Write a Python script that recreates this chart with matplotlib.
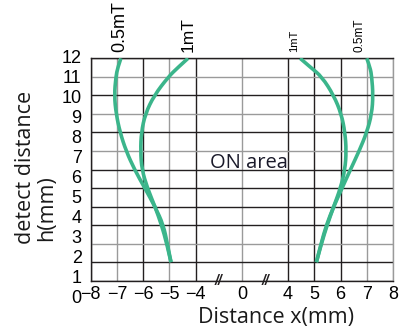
import numpy as np
import matplotlib
matplotlib.use("Agg")
import matplotlib.pyplot as plt
from matplotlib.path import Path
from matplotlib.patches import PathPatch

# ---- data (h in grid units, x in mm) ----
h_vals = [12, 11.5, 11, 10, 9, 8, 7, 6, 5, 4, 3, 2, 1]
left_05mT = [-6.85, -6.97, -7.04, -7.10, -7.03, -6.88, -6.65, -6.33, -5.94, -5.55, -5.23, -5.08, -4.94]
left_1mT = [-4.29, -4.68, -5.04, -5.58, -5.92, -6.07, -6.10, -6.05, -5.84, -5.55, -5.30, -5.10, -4.94]
right_1mT = [4.46, 4.87, 5.29, 5.74, 6.03, 6.17, 6.22, 6.17, 6.00, 5.74, 5.49, 5.27, 5.08]
right_05mT = [7.00, 7.13, 7.19, 7.24, 7.19, 7.00, 6.71, 6.38, 6.06, 5.74, 5.46, 5.26, 5.08]

x_ticks = [-8, -7, -6, -5, -4, 0, 4, 5, 6, 7, 8]
y_ticks = list(range(0, 13))
break_marks = [-2, 2]

# broken x axis: piecewise linear scale
XB = [-8, -4, 0, 4, 8]
XP = [0, 4, 5.76, 7.52, 11.52]
def fwd(x):
    return np.interp(x, XB, XP)
def inv(p):
    return np.interp(p, XP, XB)

GREEN = "#3bb58b"
DARK = "#231f20"
GRAY = "#9a9a9a"
TICKFONT = "Liberation Sans"
LABFONT = "Open Sans"

W, H = 405, 332
fig = plt.figure(figsize=(W / 100, H / 100), dpi=100)
L, R, T, B = 90.7, 393.0, 58.3, 280.7
ax = fig.add_axes([L / W, 1 - B / H, (R - L) / W, (B - T) / H])
ax.set_xscale("function", functions=(fwd, inv))
ax.set_xlim(-8, 8)
ax.set_ylim(0, 12)
ax.set_xticks(x_ticks)
ax.set_xticklabels([str(v).replace("-", "\u2212") for v in x_ticks],
                   fontfamily=TICKFONT, fontsize=13)
ax.set_yticks(y_ticks)
ax.set_yticklabels([])
ax.minorticks_off()
ax.tick_params(axis="both", length=0)
ax.tick_params(axis="x", pad=4)
ax.grid(True, linewidth=1.0)
h_dark = {12, 10, 8, 6, 5, 4, 3, 1, 0}
for v, gl in zip(y_ticks, ax.yaxis.get_gridlines()):
    gl.set_color(DARK if v in h_dark else GRAY)
x_dark = {-8, -6, -4, 4, 5, 6}
for v, gl in zip(x_ticks, ax.xaxis.get_gridlines()):
    gl.set_color(DARK if v in x_dark else GRAY)
for s in ["left", "bottom", "top"]:
    ax.spines[s].set_color(DARK)
    ax.spines[s].set_linewidth(1.0)
ax.spines["right"].set_color(GRAY)
ax.spines["right"].set_linewidth(1.0)


def smooth_path(xs, ys):
    """Quadratic Bezier path through the read points (midpoint smoothing)."""
    pts = list(zip(xs, ys))
    verts = [pts[0]]
    codes = [Path.MOVETO]
    n = len(pts)
    for i in range(1, n - 1):
        ctrl = pts[i]
        if i < n - 2:
            end = ((pts[i][0] + pts[i + 1][0]) / 2, (pts[i][1] + pts[i + 1][1]) / 2)
        else:
            end = pts[n - 1]
        verts += [ctrl, end]
        codes += [Path.CURVE3, Path.CURVE3]
    return Path(verts, codes)


for xs in (left_05mT, left_1mT, right_1mT, right_05mT):
    patch = PathPatch(smooth_path(xs, h_vals), facecolor="none", edgecolor=GREEN,
                      linewidth=2.6, capstyle="butt", joinstyle="round",
                      transform=ax.transData, zorder=3)
    ax.add_patch(patch)

# curve labels
narrow = ["Liberation Sans Narrow", "Liberation Sans"]
lab_specs = [
    (left_05mT, "0.5mT", 13, -0.7, TICKFONT),
    (left_1mT, "1mT", 12.5, 0, TICKFONT),
    (right_1mT, "1mT", 8, -4.0, narrow),
    (right_05mT, "0.5mT", 8.5, -5.5, narrow),
]
for xs, txt, fs, dx, fam in lab_specs:
    ax.annotate(txt, xy=(xs[0], h_vals[0]), xytext=(dx, 4.5),
                textcoords="offset points", rotation=90, ha="center", va="bottom",
                fontsize=fs, family=fam, color="black", annotation_clip=False)

ax.text(0.524, 0.529, "ON area", transform=ax.transAxes, ha="center", va="center",
        fontsize=14.5, family=LABFONT, color="#1a1a2a")

for bx in break_marks:
    ax.text(bx, 0, "//", ha="center", va="center", fontsize=10, style="italic",
            fontweight="bold", family=TICKFONT, color=DARK, clip_on=False, zorder=4)

# y tick labels (separate label scale)
axl = fig.add_axes([L / W, 1 - 296.7 / H, (R - L) / W, (296.7 - 56.7) / H])
axl.set_ylim(0, 12)
axl.set_yticks(y_ticks)
axl.set_yticklabels([str(v) for v in y_ticks], fontfamily=TICKFONT, fontsize=13)
axl.set_xticks([])
axl.tick_params(axis="y", length=0, pad=6.5)
axl.set_frame_on(False)
axl.patch.set_visible(False)

fig.text(276.5 / W, 1 - 317 / H, "Distance x(mm)", ha="center", va="center",
         fontsize=15.5, family=LABFONT, color="#1a1a1a")
fig.text(25.8 / W, 1 - 167 / H, "detect distance", ha="center", va="center",
         rotation=90, fontsize=15.5, family=LABFONT, color="#1a1a1a")
fig.text(47 / W, 1 - 208.5 / H, "h(mm)", ha="center", va="center",
         rotation=90, fontsize=15.5, family=LABFONT, color="#1a1a1a")

fig.savefig("out.png", dpi=100)
